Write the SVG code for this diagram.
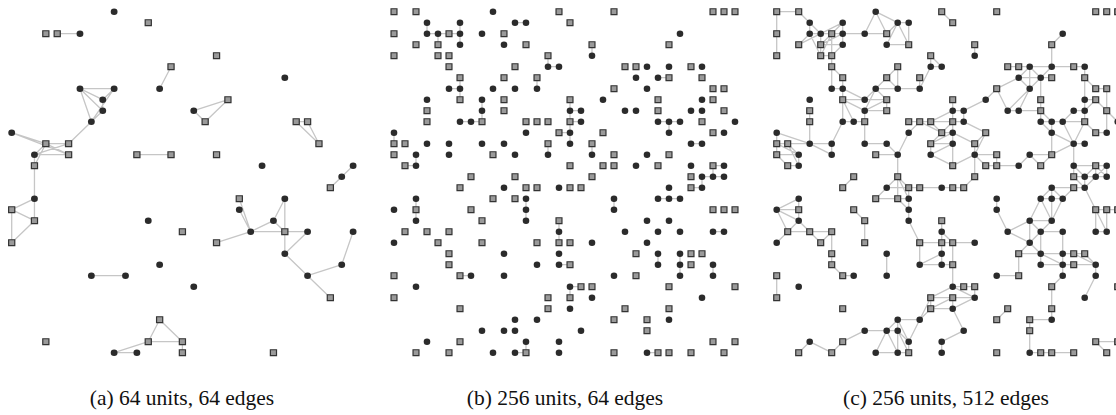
<svg xmlns="http://www.w3.org/2000/svg" width="1116" height="415" viewBox="0 0 1116 415">
<style>
.e{fill:none;stroke:#c6c6c6;stroke-width:1.3;vector-effect:non-scaling-stroke;stroke-linecap:round}
.cap{font-family:"Liberation Serif","Times New Roman",serif;font-size:21.5px;fill:#111;text-anchor:middle}
</style>
<defs>
<circle id="C" r="0.3" fill="#2b2b2b"/>
<rect id="S" x="-0.27" y="-0.27" width="0.54" height="0.54" fill="#9a9a9a" stroke="#333" stroke-width="1.2" vector-effect="non-scaling-stroke"/>
</defs>
<rect width="1116" height="415" fill="#fff"/>
<g id="connectors">
<path class="e" transform="translate(11.7,11.7) scale(11.38,11)" d="M4 2L6 2M14 5L13 7M6 7L9 7M6 7L8 8M6 7L8 9M6 7L7 10M9 7L8 8M9 7L7 10M8 9L7 10M8 8L8 9M7 10L5 12M0 11L3 12M0 11L5 13M3 12L5 12M3 12L5 13M2 13L3 12M2 13L5 12M2 13L5 13M2 13L2 14M2 14L3 12M2 14L2 17M11 13L14 13M2 17L0 18M2 17L2 19M0 18L2 19M0 18L0 21M2 19L0 21M7 24L10 24M13 28L12 30M13 28L15 30M12 30L15 30M12 30L9 31M9 31L11 31M15 30L15 31M20 17L21 20M20 18L21 20M18 21L21 20M21 20L23 19M21 20L24 20M23 19L24 17M23 19L24 20M24 17L24 20M24 20L26 20M24 20L24 22M26 20L24 22M24 22L26 24M26 24L29 23M29 23L30 20M26 24L28 26M28 16L29 15M29 15L30 14M16 9L19 8M16 9L17 10M17 10L19 8M25 10L26 10M25 10L27 12M26 10L27 12"/>
<path class="e" transform="translate(394,11.7) scale(11)" d="M3 1L3 2M3 2L4 2M4 2L5 2M5 2L6 2M6 1L6 2M6 2L6 3M4 2L4 3M11 1L12 1M14 4L14 5M14 5L15 5M5 7L6 7M6 6L6 7M13 6L13 7M6 7L6 8M8 8L8 9M6 10L7 10M7 10L8 10M8 9L8 10M0 11L0 12M14 12L14 13M1 14L2 14M2 13L2 14M18 3L18 4M24 6L25 6M16 8L16 9M16 9L17 9M16 9L16 10M16 10L17 10M24 10L25 10M25 10L26 10M25 10L25 11M15 11L16 11M16 10L16 11M16 11L16 12M27 12L28 12M18 12L18 13M29 14L30 14M28 15L29 15M29 15L30 15M29 14L29 15M28 15L28 16M2 17L2 18M2 18L2 19M12 17L12 18M12 18L12 19M15 19L15 20M15 20L15 21M15 23L16 23M6 24L7 24M11 31L12 31M12 30L12 31M27 16L28 16M24 17L25 17M25 17L26 17M20 17L20 18M29 20L30 20M24 22L24 23M26 22L26 23M26 23L26 24M29 23L29 24M16 25L17 25M16 25L16 26M23 31L24 31"/>
<path class="e" transform="translate(776.7,11.7) scale(11)" d="M0 0L2 0M0 0L0 2M0 2L0 4M2 0L3 1M3 1L3 2M3 1L4 2M3 2L4 2M4 2L5 2M5 2L6 2M6 1L6 2M6 1L4 2M6 1L5 2M2 3L3 2M2 3L4 2M4 3L4 2M4 3L5 2M4 3L6 2M4 3L6 3M4 4L4 3M5 4L5 2M4 4L5 2M5 4L6 3M6 2L6 3M3 2L4 4M6 2L8 2M8 2L9 0M9 0L10 2M9 0L11 1M8 2L10 2M10 2L11 1M11 1L12 1M12 1L12 3M10 3L12 3M11 1L10 3M11 1L12 3M4 4L5 4M5 4L5 5M5 5L6 6M5 5L5 7M6 6L6 7M5 7L6 7M6 7L8 8M6 8L8 8M6 8L8 9M8 8L10 8M8 8L9 7M9 7L11 7M9 7L10 6M10 6L11 5M10 6L11 7M11 5L11 7M11 7L13 7M13 7L13 6M14 5L14 4M14 5L15 5M14 5L13 7M14 4L15 5M8 9L9 7M8 9L10 8M8 9L10 9M10 8L10 9M9 7L10 8M6 8L6 10M6 10L7 10M7 10L8 10M8 9L8 10M6 8L7 10M8 10L8 12M6 10L5 12M3 12L5 12M3 12L5 13M3 12L3 10M3 10L3 9M8 12L10 12M10 12L11 13M9 13L11 13M11 13L12 11M12 11L13 10M12 10L13 10M13 10L14 10M11 13L11 15M0 11L0 12M0 12L1 12M1 12L3 12M0 12L0 13M0 13L2 13M1 14L2 14M2 13L2 14M1 12L2 13M0 12L2 13M1 12L2 14M0 13L1 14M0 11L3 12M6 7L6 8M5 12L5 13M14 10L16 9M14 10L16 10M14 10L15 11M15 11L16 10M15 11L16 11M14 12L15 11M14 12L16 11M14 12L16 12M14 13L16 12M14 13L16 14M14 12L14 13M13 10L15 11M16 8L16 9M16 9L17 9M16 9L16 10M17 9L17 10M16 10L17 10M16 10L16 11M16 11L16 12M16 12L16 14M17 10L19 11M19 11L18 13M19 11L18 12M18 12L16 11M18 12L18 13M18 13L20 13M18 13L19 14M18 13L16 14M18 13L18 15M20 13L20 14M19 14L20 14M20 14L22 14M22 14L23 13M23 13L25 13M23 13L24 14M25 13L24 14M25 13L27 12M25 11L25 13M19 8L17 9M19 8L20 7M20 7L21 9M20 7L22 6M21 9L22 9M22 9L23 7M21 9L23 7M22 9L24 9M22 6L23 5M22 6L24 6M23 5L24 6M23 7L22 6M23 7L24 6M23 7L23 5M24 6L25 6M25 5L24 6M21 5L22 5M22 5L23 5M23 5L25 5M25 5L27 5M27 5L28 5M25 3L26 2M25 3L25 5M18 3L18 4M24 6L24 8M24 8L24 9M24 9L24 10M24 10L25 10M25 10L26 10M26 10L28 10M24 9L25 10M25 10L25 11M24 10L25 11M25 11L27 12M26 10L27 12M27 9L28 9M27 9L26 10M28 9L28 10M28 9L29 8M28 10L27 12M27 12L28 12M28 8L28 9M28 8L29 8M28 8L28 6M28 6L28 5M28 6L29 7M29 7L30 7M29 8L30 9M30 7L30 9M30 9L31 10M29 11L30 11M30 11L30 9M29 11L28 10M27 12L27 14M27 14L29 14M27 14L27 15M27 15L28 15M28 15L29 15M29 15L30 15M29 14L30 14M27 14L28 15M29 14L28 15M29 14L30 15M30 14L29 15M30 14L30 15M29 14L29 15M15 0L16 1M28 15L28 16M28 16L27 15M28 16L29 15M6 16L7 15M10 16L12 16M12 16L13 16M13 16L15 16M10 16L9 17M9 17L11 17M11 17L12 17M11 15L10 16M11 15L11 17M11 15L12 16M11 15L12 17M12 16L12 17M12 17L12 18M12 18L12 19M11 17L12 18M12 19L13 21M13 21L15 21M13 21L13 23M13 23L15 23M13 23L15 22M15 19L15 20M15 20L15 21M15 21L15 22M15 22L15 23M2 17L2 18M0 18L2 18M0 18L2 17M0 18L2 19M2 18L2 19M2 19L1 20M0 18L1 20M1 20L3 20M3 20L5 20M2 19L3 20M3 20L4 21M4 21L5 20M5 20L5 22M5 22L5 23M5 23L6 24M6 24L7 24M0 21L1 20M7 18L8 19M8 19L8 21M10 22L10 24M0 24L0 26M14 26L14 27M14 26L13 28M14 27L13 28M13 28L11 28M11 28L10 29M11 28L11 29M11 28L12 30M10 29L11 29M10 29L8 29M8 29L6 30M6 30L5 31M5 31L3 30M3 30L2 31M10 29L9 31M9 31L11 31M11 31L12 31M10 29L11 31M11 29L11 31M11 29L12 30M12 30L12 31M11 29L12 31M13 28L12 30M15 16L16 16M16 16L17 16M17 16L18 15M25 16L27 16M27 16L28 16M25 16L24 17M25 16L25 17M25 16L26 17M24 17L25 17M25 17L26 17M26 17L27 16M24 17L23 19M24 17L25 19M26 17L25 19M25 17L25 19M23 19L25 19M23 19L21 20M23 19L24 20M25 19L24 20M24 20L26 20M23 19L23 21M21 20L23 21M24 20L23 21M21 20L20 18M20 17L20 18M23 21L22 22M23 21L24 22M22 22L24 22M22 22L22 24M20 24L22 24M24 20L24 22M24 22L26 22M26 20L26 22M26 22L27 22M27 22L28 22M24 22L24 23M24 23L26 23M24 22L26 23M26 22L26 23M26 23L27 23M27 23L29 23M27 22L29 23M28 22L29 23M26 23L26 24M26 24L25 25M29 23L29 24M29 24L28 26M25 25L25 27M25 27L25 28M25 28L23 28M23 28L23 29M23 29L23 31M23 31L24 31M24 31L25 31M25 31L27 31M21 27L20 28M28 16L29 18M29 18L30 18M30 18L31 18M29 18L29 20M30 18L30 20M29 18L30 20M29 20L30 20M15 21L16 21M16 21L18 21M16 21L16 23M15 23L16 23M15 20L16 21M16 23L16 25M16 25L17 25M17 25L18 25M18 25L18 26M16 26L18 26M16 25L18 26M16 26L16 27M16 27L18 26M16 27L17 29M17 29L15 30M14 26L16 25M14 26L16 26M14 27L16 26M14 27L16 27M29 30L31 30M29 30L30 31M15 30L15 31"/>
</g>
<g id="panel-a" transform="translate(11.7,11.7) scale(11.38,11)">
<g id="a9_0"><use href="#C" x="9" y="0"/></g><g id="a12_1"><use href="#S" x="12" y="1"/></g><g id="a3_2"><use href="#S" x="3" y="2"/></g><g id="a4_2"><use href="#S" x="4" y="2"/></g><g id="a6_2"><use href="#C" x="6" y="2"/></g><g id="a14_5"><use href="#S" x="14" y="5"/></g><g id="a13_7"><use href="#C" x="13" y="7"/></g><g id="a6_7"><use href="#C" x="6" y="7"/></g><g id="a9_7"><use href="#C" x="9" y="7"/></g><g id="a8_8"><use href="#C" x="8" y="8"/></g><g id="a8_9"><use href="#C" x="8" y="9"/></g><g id="a7_10"><use href="#C" x="7" y="10"/></g><g id="a0_11"><use href="#C" x="0" y="11"/></g><g id="a3_12"><use href="#S" x="3" y="12"/></g><g id="a5_12"><use href="#S" x="5" y="12"/></g><g id="a2_13"><use href="#C" x="2" y="13"/></g><g id="a5_13"><use href="#S" x="5" y="13"/></g><g id="a2_14"><use href="#S" x="2" y="14"/></g><g id="a11_13"><use href="#S" x="11" y="13"/></g><g id="a14_13"><use href="#S" x="14" y="13"/></g><g id="a2_17"><use href="#C" x="2" y="17"/></g><g id="a0_18"><use href="#S" x="0" y="18"/></g><g id="a2_19"><use href="#S" x="2" y="19"/></g><g id="a0_21"><use href="#S" x="0" y="21"/></g><g id="a12_19"><use href="#C" x="12" y="19"/></g><g id="a15_20"><use href="#S" x="15" y="20"/></g><g id="a13_23"><use href="#C" x="13" y="23"/></g><g id="a7_24"><use href="#C" x="7" y="24"/></g><g id="a10_24"><use href="#C" x="10" y="24"/></g><g id="a13_28"><use href="#S" x="13" y="28"/></g><g id="a12_30"><use href="#S" x="12" y="30"/></g><g id="a9_31"><use href="#C" x="9" y="31"/></g><g id="a11_31"><use href="#C" x="11" y="31"/></g><g id="a3_30"><use href="#S" x="3" y="30"/></g><g id="a15_30"><use href="#S" x="15" y="30"/></g><g id="a15_31"><use href="#S" x="15" y="31"/></g><g id="a23_31"><use href="#S" x="23" y="31"/></g><g id="a16_25"><use href="#C" x="16" y="25"/></g><g id="a18_21"><use href="#S" x="18" y="21"/></g><g id="a20_17"><use href="#S" x="20" y="17"/></g><g id="a20_18"><use href="#C" x="20" y="18"/></g><g id="a21_20"><use href="#C" x="21" y="20"/></g><g id="a23_19"><use href="#C" x="23" y="19"/></g><g id="a24_20"><use href="#S" x="24" y="20"/></g><g id="a24_17"><use href="#C" x="24" y="17"/></g><g id="a26_20"><use href="#C" x="26" y="20"/></g><g id="a30_20"><use href="#C" x="30" y="20"/></g><g id="a24_22"><use href="#C" x="24" y="22"/></g><g id="a26_24"><use href="#C" x="26" y="24"/></g><g id="a29_23"><use href="#C" x="29" y="23"/></g><g id="a28_26"><use href="#S" x="28" y="26"/></g><g id="a28_16"><use href="#S" x="28" y="16"/></g><g id="a29_15"><use href="#C" x="29" y="15"/></g><g id="a30_14"><use href="#C" x="30" y="14"/></g><g id="a18_4"><use href="#S" x="18" y="4"/></g><g id="a24_6"><use href="#C" x="24" y="6"/></g><g id="a19_8"><use href="#S" x="19" y="8"/></g><g id="a16_9"><use href="#C" x="16" y="9"/></g><g id="a17_10"><use href="#S" x="17" y="10"/></g><g id="a25_10"><use href="#S" x="25" y="10"/></g><g id="a26_10"><use href="#S" x="26" y="10"/></g><g id="a27_12"><use href="#S" x="27" y="12"/></g><g id="a18_13"><use href="#S" x="18" y="13"/></g><g id="a22_14"><use href="#C" x="22" y="14"/></g>
</g>
<g id="panel-b" transform="translate(394,11.7) scale(11)">
<g id="b0_0"><use href="#S" x="0" y="0"/></g><g id="b2_0"><use href="#S" x="2" y="0"/></g><g id="b9_0"><use href="#C" x="9" y="0"/></g><g id="b15_0"><use href="#S" x="15" y="0"/></g><g id="b20_0"><use href="#S" x="20" y="0"/></g><g id="b29_0"><use href="#S" x="29" y="0"/></g><g id="b30_0"><use href="#S" x="30" y="0"/></g><g id="b31_0"><use href="#S" x="31" y="0"/></g>
<g id="b3_1"><use href="#C" x="3" y="1"/></g><g id="b6_1"><use href="#C" x="6" y="1"/></g><g id="b11_1"><use href="#C" x="11" y="1"/></g><g id="b12_1"><use href="#C" x="12" y="1"/></g><g id="b16_1"><use href="#S" x="16" y="1"/></g>
<g id="b0_2"><use href="#S" x="0" y="2"/></g><g id="b3_2"><use href="#C" x="3" y="2"/></g><g id="b4_2"><use href="#C" x="4" y="2"/></g><g id="b5_2"><use href="#S" x="5" y="2"/></g><g id="b6_2"><use href="#C" x="6" y="2"/></g><g id="b8_2"><use href="#C" x="8" y="2"/></g><g id="b10_2"><use href="#S" x="10" y="2"/></g><g id="b26_2"><use href="#C" x="26" y="2"/></g>
<g id="b2_3"><use href="#S" x="2" y="3"/></g><g id="b4_3"><use href="#S" x="4" y="3"/></g><g id="b6_3"><use href="#C" x="6" y="3"/></g><g id="b10_3"><use href="#C" x="10" y="3"/></g><g id="b12_3"><use href="#S" x="12" y="3"/></g><g id="b18_3"><use href="#S" x="18" y="3"/></g><g id="b25_3"><use href="#S" x="25" y="3"/></g>
<g id="b0_4"><use href="#S" x="0" y="4"/></g><g id="b4_4"><use href="#S" x="4" y="4"/></g><g id="b5_4"><use href="#S" x="5" y="4"/></g><g id="b14_4"><use href="#S" x="14" y="4"/></g><g id="b18_4"><use href="#C" x="18" y="4"/></g>
<g id="b5_5"><use href="#S" x="5" y="5"/></g><g id="b11_5"><use href="#S" x="11" y="5"/></g><g id="b14_5"><use href="#C" x="14" y="5"/></g><g id="b15_5"><use href="#C" x="15" y="5"/></g><g id="b21_5"><use href="#S" x="21" y="5"/></g><g id="b22_5"><use href="#S" x="22" y="5"/></g><g id="b23_5"><use href="#C" x="23" y="5"/></g><g id="b25_5"><use href="#C" x="25" y="5"/></g><g id="b27_5"><use href="#S" x="27" y="5"/></g><g id="b28_5"><use href="#C" x="28" y="5"/></g>
<g id="b6_6"><use href="#S" x="6" y="6"/></g><g id="b10_6"><use href="#S" x="10" y="6"/></g><g id="b13_6"><use href="#S" x="13" y="6"/></g><g id="b22_6"><use href="#C" x="22" y="6"/></g><g id="b24_6"><use href="#C" x="24" y="6"/></g><g id="b25_6"><use href="#S" x="25" y="6"/></g><g id="b28_6"><use href="#S" x="28" y="6"/></g>
<g id="b5_7"><use href="#C" x="5" y="7"/></g><g id="b6_7"><use href="#C" x="6" y="7"/></g><g id="b9_7"><use href="#C" x="9" y="7"/></g><g id="b11_7"><use href="#C" x="11" y="7"/></g><g id="b13_7"><use href="#C" x="13" y="7"/></g><g id="b20_7"><use href="#S" x="20" y="7"/></g><g id="b23_7"><use href="#C" x="23" y="7"/></g><g id="b29_7"><use href="#S" x="29" y="7"/></g><g id="b30_7"><use href="#S" x="30" y="7"/></g>
<g id="b3_8"><use href="#C" x="3" y="8"/></g><g id="b6_8"><use href="#S" x="6" y="8"/></g><g id="b8_8"><use href="#C" x="8" y="8"/></g><g id="b10_8"><use href="#S" x="10" y="8"/></g><g id="b16_8"><use href="#S" x="16" y="8"/></g><g id="b19_8"><use href="#C" x="19" y="8"/></g><g id="b24_8"><use href="#S" x="24" y="8"/></g><g id="b28_8"><use href="#C" x="28" y="8"/></g><g id="b29_8"><use href="#S" x="29" y="8"/></g>
<g id="b3_9"><use href="#S" x="3" y="9"/></g><g id="b8_9"><use href="#C" x="8" y="9"/></g><g id="b10_9"><use href="#S" x="10" y="9"/></g><g id="b16_9"><use href="#C" x="16" y="9"/></g><g id="b17_9"><use href="#C" x="17" y="9"/></g><g id="b21_9"><use href="#C" x="21" y="9"/></g><g id="b22_9"><use href="#C" x="22" y="9"/></g><g id="b24_9"><use href="#S" x="24" y="9"/></g><g id="b27_9"><use href="#C" x="27" y="9"/></g><g id="b28_9"><use href="#C" x="28" y="9"/></g><g id="b30_9"><use href="#S" x="30" y="9"/></g>
<g id="b3_10"><use href="#S" x="3" y="10"/></g><g id="b6_10"><use href="#C" x="6" y="10"/></g><g id="b7_10"><use href="#C" x="7" y="10"/></g><g id="b8_10"><use href="#S" x="8" y="10"/></g><g id="b12_10"><use href="#S" x="12" y="10"/></g><g id="b13_10"><use href="#S" x="13" y="10"/></g><g id="b14_10"><use href="#S" x="14" y="10"/></g><g id="b16_10"><use href="#S" x="16" y="10"/></g><g id="b17_10"><use href="#C" x="17" y="10"/></g><g id="b24_10"><use href="#C" x="24" y="10"/></g><g id="b25_10"><use href="#C" x="25" y="10"/></g><g id="b26_10"><use href="#C" x="26" y="10"/></g><g id="b28_10"><use href="#S" x="28" y="10"/></g><g id="b31_10"><use href="#C" x="31" y="10"/></g>
<g id="b0_11"><use href="#C" x="0" y="11"/></g><g id="b12_11"><use href="#C" x="12" y="11"/></g><g id="b15_11"><use href="#S" x="15" y="11"/></g><g id="b16_11"><use href="#C" x="16" y="11"/></g><g id="b19_11"><use href="#S" x="19" y="11"/></g><g id="b25_11"><use href="#C" x="25" y="11"/></g><g id="b29_11"><use href="#S" x="29" y="11"/></g><g id="b30_11"><use href="#C" x="30" y="11"/></g>
<g id="b0_12"><use href="#S" x="0" y="12"/></g><g id="b1_12"><use href="#S" x="1" y="12"/></g><g id="b3_12"><use href="#C" x="3" y="12"/></g><g id="b5_12"><use href="#C" x="5" y="12"/></g><g id="b8_12"><use href="#C" x="8" y="12"/></g><g id="b10_12"><use href="#C" x="10" y="12"/></g><g id="b14_12"><use href="#S" x="14" y="12"/></g><g id="b16_12"><use href="#C" x="16" y="12"/></g><g id="b18_12"><use href="#S" x="18" y="12"/></g><g id="b27_12"><use href="#C" x="27" y="12"/></g><g id="b28_12"><use href="#C" x="28" y="12"/></g>
<g id="b0_13"><use href="#S" x="0" y="13"/></g><g id="b2_13"><use href="#C" x="2" y="13"/></g><g id="b5_13"><use href="#C" x="5" y="13"/></g><g id="b9_13"><use href="#S" x="9" y="13"/></g><g id="b11_13"><use href="#C" x="11" y="13"/></g><g id="b14_13"><use href="#C" x="14" y="13"/></g><g id="b18_13"><use href="#C" x="18" y="13"/></g><g id="b20_13"><use href="#S" x="20" y="13"/></g><g id="b23_13"><use href="#C" x="23" y="13"/></g><g id="b25_13"><use href="#S" x="25" y="13"/></g>
<g id="b1_14"><use href="#S" x="1" y="14"/></g><g id="b2_14"><use href="#C" x="2" y="14"/></g><g id="b16_14"><use href="#S" x="16" y="14"/></g><g id="b19_14"><use href="#S" x="19" y="14"/></g><g id="b20_14"><use href="#S" x="20" y="14"/></g><g id="b22_14"><use href="#C" x="22" y="14"/></g><g id="b24_14"><use href="#S" x="24" y="14"/></g><g id="b27_14"><use href="#C" x="27" y="14"/></g><g id="b29_14"><use href="#S" x="29" y="14"/></g><g id="b30_14"><use href="#C" x="30" y="14"/></g>
<g id="b7_15"><use href="#S" x="7" y="15"/></g><g id="b11_15"><use href="#S" x="11" y="15"/></g><g id="b18_15"><use href="#S" x="18" y="15"/></g><g id="b27_15"><use href="#S" x="27" y="15"/></g><g id="b28_15"><use href="#C" x="28" y="15"/></g><g id="b29_15"><use href="#C" x="29" y="15"/></g><g id="b30_15"><use href="#C" x="30" y="15"/></g>
<g id="b6_16"><use href="#S" x="6" y="16"/></g><g id="b10_16"><use href="#C" x="10" y="16"/></g><g id="b12_16"><use href="#S" x="12" y="16"/></g><g id="b13_16"><use href="#S" x="13" y="16"/></g><g id="b15_16"><use href="#C" x="15" y="16"/></g><g id="b16_16"><use href="#S" x="16" y="16"/></g><g id="b17_16"><use href="#S" x="17" y="16"/></g><g id="b25_16"><use href="#C" x="25" y="16"/></g><g id="b27_16"><use href="#S" x="27" y="16"/></g><g id="b28_16"><use href="#C" x="28" y="16"/></g>
<g id="b2_17"><use href="#C" x="2" y="17"/></g><g id="b9_17"><use href="#S" x="9" y="17"/></g><g id="b11_17"><use href="#S" x="11" y="17"/></g><g id="b12_17"><use href="#C" x="12" y="17"/></g><g id="b20_17"><use href="#C" x="20" y="17"/></g><g id="b24_17"><use href="#C" x="24" y="17"/></g><g id="b25_17"><use href="#C" x="25" y="17"/></g><g id="b26_17"><use href="#C" x="26" y="17"/></g>
<g id="b0_18"><use href="#C" x="0" y="18"/></g><g id="b2_18"><use href="#S" x="2" y="18"/></g><g id="b7_18"><use href="#S" x="7" y="18"/></g><g id="b12_18"><use href="#C" x="12" y="18"/></g><g id="b20_18"><use href="#C" x="20" y="18"/></g><g id="b29_18"><use href="#S" x="29" y="18"/></g><g id="b30_18"><use href="#S" x="30" y="18"/></g><g id="b31_18"><use href="#S" x="31" y="18"/></g>
<g id="b2_19"><use href="#C" x="2" y="19"/></g><g id="b8_19"><use href="#S" x="8" y="19"/></g><g id="b12_19"><use href="#C" x="12" y="19"/></g><g id="b15_19"><use href="#S" x="15" y="19"/></g><g id="b23_19"><use href="#C" x="23" y="19"/></g><g id="b25_19"><use href="#C" x="25" y="19"/></g>
<g id="b1_20"><use href="#S" x="1" y="20"/></g><g id="b3_20"><use href="#S" x="3" y="20"/></g><g id="b5_20"><use href="#S" x="5" y="20"/></g><g id="b15_20"><use href="#C" x="15" y="20"/></g><g id="b21_20"><use href="#C" x="21" y="20"/></g><g id="b24_20"><use href="#C" x="24" y="20"/></g><g id="b26_20"><use href="#C" x="26" y="20"/></g><g id="b29_20"><use href="#C" x="29" y="20"/></g><g id="b30_20"><use href="#C" x="30" y="20"/></g>
<g id="b0_21"><use href="#C" x="0" y="21"/></g><g id="b4_21"><use href="#S" x="4" y="21"/></g><g id="b8_21"><use href="#S" x="8" y="21"/></g><g id="b13_21"><use href="#S" x="13" y="21"/></g><g id="b15_21"><use href="#S" x="15" y="21"/></g><g id="b16_21"><use href="#S" x="16" y="21"/></g><g id="b18_21"><use href="#C" x="18" y="21"/></g><g id="b23_21"><use href="#C" x="23" y="21"/></g>
<g id="b5_22"><use href="#S" x="5" y="22"/></g><g id="b10_22"><use href="#C" x="10" y="22"/></g><g id="b15_22"><use href="#C" x="15" y="22"/></g><g id="b22_22"><use href="#S" x="22" y="22"/></g><g id="b24_22"><use href="#C" x="24" y="22"/></g><g id="b26_22"><use href="#C" x="26" y="22"/></g><g id="b27_22"><use href="#S" x="27" y="22"/></g><g id="b28_22"><use href="#S" x="28" y="22"/></g>
<g id="b5_23"><use href="#S" x="5" y="23"/></g><g id="b13_23"><use href="#C" x="13" y="23"/></g><g id="b15_23"><use href="#C" x="15" y="23"/></g><g id="b16_23"><use href="#S" x="16" y="23"/></g><g id="b24_23"><use href="#C" x="24" y="23"/></g><g id="b26_23"><use href="#C" x="26" y="23"/></g><g id="b27_23"><use href="#S" x="27" y="23"/></g><g id="b29_23"><use href="#C" x="29" y="23"/></g>
<g id="b0_24"><use href="#S" x="0" y="24"/></g><g id="b6_24"><use href="#S" x="6" y="24"/></g><g id="b7_24"><use href="#C" x="7" y="24"/></g><g id="b10_24"><use href="#C" x="10" y="24"/></g><g id="b20_24"><use href="#C" x="20" y="24"/></g><g id="b22_24"><use href="#S" x="22" y="24"/></g><g id="b26_24"><use href="#C" x="26" y="24"/></g><g id="b29_24"><use href="#C" x="29" y="24"/></g>
<g id="b2_25"><use href="#C" x="2" y="25"/></g><g id="b16_25"><use href="#C" x="16" y="25"/></g><g id="b17_25"><use href="#S" x="17" y="25"/></g><g id="b18_25"><use href="#S" x="18" y="25"/></g><g id="b25_25"><use href="#S" x="25" y="25"/></g><g id="b31_25"><use href="#S" x="31" y="25"/></g>
<g id="b0_26"><use href="#S" x="0" y="26"/></g><g id="b14_26"><use href="#S" x="14" y="26"/></g><g id="b16_26"><use href="#S" x="16" y="26"/></g><g id="b18_26"><use href="#C" x="18" y="26"/></g><g id="b28_26"><use href="#C" x="28" y="26"/></g>
<g id="b6_27"><use href="#S" x="6" y="27"/></g><g id="b14_27"><use href="#S" x="14" y="27"/></g><g id="b16_27"><use href="#C" x="16" y="27"/></g><g id="b21_27"><use href="#S" x="21" y="27"/></g><g id="b25_27"><use href="#S" x="25" y="27"/></g>
<g id="b11_28"><use href="#C" x="11" y="28"/></g><g id="b13_28"><use href="#C" x="13" y="28"/></g><g id="b20_28"><use href="#S" x="20" y="28"/></g><g id="b23_28"><use href="#S" x="23" y="28"/></g><g id="b25_28"><use href="#C" x="25" y="28"/></g>
<g id="b8_29"><use href="#C" x="8" y="29"/></g><g id="b10_29"><use href="#C" x="10" y="29"/></g><g id="b11_29"><use href="#C" x="11" y="29"/></g><g id="b17_29"><use href="#C" x="17" y="29"/></g><g id="b23_29"><use href="#S" x="23" y="29"/></g>
<g id="b3_30"><use href="#C" x="3" y="30"/></g><g id="b6_30"><use href="#S" x="6" y="30"/></g><g id="b12_30"><use href="#C" x="12" y="30"/></g><g id="b15_30"><use href="#C" x="15" y="30"/></g><g id="b29_30"><use href="#S" x="29" y="30"/></g><g id="b31_30"><use href="#S" x="31" y="30"/></g>
<g id="b2_31"><use href="#S" x="2" y="31"/></g><g id="b5_31"><use href="#S" x="5" y="31"/></g><g id="b9_31"><use href="#C" x="9" y="31"/></g><g id="b11_31"><use href="#C" x="11" y="31"/></g><g id="b12_31"><use href="#S" x="12" y="31"/></g><g id="b15_31"><use href="#C" x="15" y="31"/></g><g id="b20_31"><use href="#S" x="20" y="31"/></g><g id="b23_31"><use href="#C" x="23" y="31"/></g><g id="b24_31"><use href="#S" x="24" y="31"/></g><g id="b25_31"><use href="#S" x="25" y="31"/></g><g id="b27_31"><use href="#S" x="27" y="31"/></g><g id="b30_31"><use href="#S" x="30" y="31"/></g>
</g>
<g id="panel-c" transform="translate(776.7,11.7) scale(11)">
<g id="c0_0"><use href="#S" x="0" y="0"/></g><g id="c2_0"><use href="#S" x="2" y="0"/></g><g id="c9_0"><use href="#C" x="9" y="0"/></g><g id="c15_0"><use href="#S" x="15" y="0"/></g><g id="c20_0"><use href="#S" x="20" y="0"/></g><g id="c29_0"><use href="#S" x="29" y="0"/></g><g id="c30_0"><use href="#S" x="30" y="0"/></g><g id="c31_0"><use href="#S" x="31" y="0"/></g>
<g id="c3_1"><use href="#C" x="3" y="1"/></g><g id="c6_1"><use href="#C" x="6" y="1"/></g><g id="c11_1"><use href="#C" x="11" y="1"/></g><g id="c12_1"><use href="#C" x="12" y="1"/></g><g id="c16_1"><use href="#S" x="16" y="1"/></g>
<g id="c0_2"><use href="#S" x="0" y="2"/></g><g id="c3_2"><use href="#C" x="3" y="2"/></g><g id="c4_2"><use href="#C" x="4" y="2"/></g><g id="c5_2"><use href="#S" x="5" y="2"/></g><g id="c6_2"><use href="#C" x="6" y="2"/></g><g id="c8_2"><use href="#C" x="8" y="2"/></g><g id="c10_2"><use href="#S" x="10" y="2"/></g><g id="c26_2"><use href="#C" x="26" y="2"/></g>
<g id="c2_3"><use href="#S" x="2" y="3"/></g><g id="c4_3"><use href="#S" x="4" y="3"/></g><g id="c6_3"><use href="#C" x="6" y="3"/></g><g id="c10_3"><use href="#C" x="10" y="3"/></g><g id="c12_3"><use href="#S" x="12" y="3"/></g><g id="c18_3"><use href="#S" x="18" y="3"/></g><g id="c25_3"><use href="#S" x="25" y="3"/></g>
<g id="c0_4"><use href="#S" x="0" y="4"/></g><g id="c4_4"><use href="#S" x="4" y="4"/></g><g id="c5_4"><use href="#S" x="5" y="4"/></g><g id="c14_4"><use href="#S" x="14" y="4"/></g><g id="c18_4"><use href="#C" x="18" y="4"/></g>
<g id="c5_5"><use href="#S" x="5" y="5"/></g><g id="c11_5"><use href="#S" x="11" y="5"/></g><g id="c14_5"><use href="#C" x="14" y="5"/></g><g id="c15_5"><use href="#C" x="15" y="5"/></g><g id="c21_5"><use href="#S" x="21" y="5"/></g><g id="c22_5"><use href="#S" x="22" y="5"/></g><g id="c23_5"><use href="#C" x="23" y="5"/></g><g id="c25_5"><use href="#C" x="25" y="5"/></g><g id="c27_5"><use href="#S" x="27" y="5"/></g><g id="c28_5"><use href="#C" x="28" y="5"/></g>
<g id="c6_6"><use href="#S" x="6" y="6"/></g><g id="c10_6"><use href="#S" x="10" y="6"/></g><g id="c13_6"><use href="#S" x="13" y="6"/></g><g id="c22_6"><use href="#C" x="22" y="6"/></g><g id="c24_6"><use href="#C" x="24" y="6"/></g><g id="c25_6"><use href="#S" x="25" y="6"/></g><g id="c28_6"><use href="#S" x="28" y="6"/></g>
<g id="c5_7"><use href="#C" x="5" y="7"/></g><g id="c6_7"><use href="#C" x="6" y="7"/></g><g id="c9_7"><use href="#C" x="9" y="7"/></g><g id="c11_7"><use href="#C" x="11" y="7"/></g><g id="c13_7"><use href="#C" x="13" y="7"/></g><g id="c20_7"><use href="#S" x="20" y="7"/></g><g id="c23_7"><use href="#C" x="23" y="7"/></g><g id="c29_7"><use href="#S" x="29" y="7"/></g><g id="c30_7"><use href="#S" x="30" y="7"/></g>
<g id="c3_8"><use href="#C" x="3" y="8"/></g><g id="c6_8"><use href="#S" x="6" y="8"/></g><g id="c8_8"><use href="#C" x="8" y="8"/></g><g id="c10_8"><use href="#S" x="10" y="8"/></g><g id="c16_8"><use href="#S" x="16" y="8"/></g><g id="c19_8"><use href="#C" x="19" y="8"/></g><g id="c24_8"><use href="#S" x="24" y="8"/></g><g id="c28_8"><use href="#C" x="28" y="8"/></g><g id="c29_8"><use href="#S" x="29" y="8"/></g>
<g id="c3_9"><use href="#S" x="3" y="9"/></g><g id="c8_9"><use href="#C" x="8" y="9"/></g><g id="c10_9"><use href="#S" x="10" y="9"/></g><g id="c16_9"><use href="#C" x="16" y="9"/></g><g id="c17_9"><use href="#C" x="17" y="9"/></g><g id="c21_9"><use href="#C" x="21" y="9"/></g><g id="c22_9"><use href="#C" x="22" y="9"/></g><g id="c24_9"><use href="#S" x="24" y="9"/></g><g id="c27_9"><use href="#C" x="27" y="9"/></g><g id="c28_9"><use href="#C" x="28" y="9"/></g><g id="c30_9"><use href="#S" x="30" y="9"/></g>
<g id="c3_10"><use href="#S" x="3" y="10"/></g><g id="c6_10"><use href="#C" x="6" y="10"/></g><g id="c7_10"><use href="#C" x="7" y="10"/></g><g id="c8_10"><use href="#S" x="8" y="10"/></g><g id="c12_10"><use href="#S" x="12" y="10"/></g><g id="c13_10"><use href="#S" x="13" y="10"/></g><g id="c14_10"><use href="#S" x="14" y="10"/></g><g id="c16_10"><use href="#S" x="16" y="10"/></g><g id="c17_10"><use href="#C" x="17" y="10"/></g><g id="c24_10"><use href="#C" x="24" y="10"/></g><g id="c25_10"><use href="#C" x="25" y="10"/></g><g id="c26_10"><use href="#C" x="26" y="10"/></g><g id="c28_10"><use href="#S" x="28" y="10"/></g><g id="c31_10"><use href="#C" x="31" y="10"/></g>
<g id="c0_11"><use href="#C" x="0" y="11"/></g><g id="c12_11"><use href="#C" x="12" y="11"/></g><g id="c15_11"><use href="#S" x="15" y="11"/></g><g id="c16_11"><use href="#C" x="16" y="11"/></g><g id="c19_11"><use href="#S" x="19" y="11"/></g><g id="c25_11"><use href="#C" x="25" y="11"/></g><g id="c29_11"><use href="#S" x="29" y="11"/></g><g id="c30_11"><use href="#C" x="30" y="11"/></g>
<g id="c0_12"><use href="#S" x="0" y="12"/></g><g id="c1_12"><use href="#S" x="1" y="12"/></g><g id="c3_12"><use href="#C" x="3" y="12"/></g><g id="c5_12"><use href="#C" x="5" y="12"/></g><g id="c8_12"><use href="#C" x="8" y="12"/></g><g id="c10_12"><use href="#C" x="10" y="12"/></g><g id="c14_12"><use href="#S" x="14" y="12"/></g><g id="c16_12"><use href="#C" x="16" y="12"/></g><g id="c18_12"><use href="#S" x="18" y="12"/></g><g id="c27_12"><use href="#C" x="27" y="12"/></g><g id="c28_12"><use href="#C" x="28" y="12"/></g>
<g id="c0_13"><use href="#S" x="0" y="13"/></g><g id="c2_13"><use href="#C" x="2" y="13"/></g><g id="c5_13"><use href="#C" x="5" y="13"/></g><g id="c9_13"><use href="#S" x="9" y="13"/></g><g id="c11_13"><use href="#C" x="11" y="13"/></g><g id="c14_13"><use href="#C" x="14" y="13"/></g><g id="c18_13"><use href="#C" x="18" y="13"/></g><g id="c20_13"><use href="#S" x="20" y="13"/></g><g id="c23_13"><use href="#C" x="23" y="13"/></g><g id="c25_13"><use href="#S" x="25" y="13"/></g>
<g id="c1_14"><use href="#S" x="1" y="14"/></g><g id="c2_14"><use href="#C" x="2" y="14"/></g><g id="c16_14"><use href="#S" x="16" y="14"/></g><g id="c19_14"><use href="#S" x="19" y="14"/></g><g id="c20_14"><use href="#S" x="20" y="14"/></g><g id="c22_14"><use href="#C" x="22" y="14"/></g><g id="c24_14"><use href="#S" x="24" y="14"/></g><g id="c27_14"><use href="#C" x="27" y="14"/></g><g id="c29_14"><use href="#S" x="29" y="14"/></g><g id="c30_14"><use href="#C" x="30" y="14"/></g>
<g id="c7_15"><use href="#S" x="7" y="15"/></g><g id="c11_15"><use href="#S" x="11" y="15"/></g><g id="c18_15"><use href="#S" x="18" y="15"/></g><g id="c27_15"><use href="#S" x="27" y="15"/></g><g id="c28_15"><use href="#C" x="28" y="15"/></g><g id="c29_15"><use href="#C" x="29" y="15"/></g><g id="c30_15"><use href="#C" x="30" y="15"/></g>
<g id="c6_16"><use href="#S" x="6" y="16"/></g><g id="c10_16"><use href="#C" x="10" y="16"/></g><g id="c12_16"><use href="#S" x="12" y="16"/></g><g id="c13_16"><use href="#S" x="13" y="16"/></g><g id="c15_16"><use href="#C" x="15" y="16"/></g><g id="c16_16"><use href="#S" x="16" y="16"/></g><g id="c17_16"><use href="#S" x="17" y="16"/></g><g id="c25_16"><use href="#C" x="25" y="16"/></g><g id="c27_16"><use href="#S" x="27" y="16"/></g><g id="c28_16"><use href="#C" x="28" y="16"/></g>
<g id="c2_17"><use href="#C" x="2" y="17"/></g><g id="c9_17"><use href="#S" x="9" y="17"/></g><g id="c11_17"><use href="#S" x="11" y="17"/></g><g id="c12_17"><use href="#C" x="12" y="17"/></g><g id="c20_17"><use href="#C" x="20" y="17"/></g><g id="c24_17"><use href="#C" x="24" y="17"/></g><g id="c25_17"><use href="#C" x="25" y="17"/></g><g id="c26_17"><use href="#C" x="26" y="17"/></g>
<g id="c0_18"><use href="#C" x="0" y="18"/></g><g id="c2_18"><use href="#S" x="2" y="18"/></g><g id="c7_18"><use href="#S" x="7" y="18"/></g><g id="c12_18"><use href="#C" x="12" y="18"/></g><g id="c20_18"><use href="#C" x="20" y="18"/></g><g id="c29_18"><use href="#S" x="29" y="18"/></g><g id="c30_18"><use href="#S" x="30" y="18"/></g><g id="c31_18"><use href="#S" x="31" y="18"/></g>
<g id="c2_19"><use href="#C" x="2" y="19"/></g><g id="c8_19"><use href="#S" x="8" y="19"/></g><g id="c12_19"><use href="#C" x="12" y="19"/></g><g id="c15_19"><use href="#S" x="15" y="19"/></g><g id="c23_19"><use href="#C" x="23" y="19"/></g><g id="c25_19"><use href="#C" x="25" y="19"/></g>
<g id="c1_20"><use href="#S" x="1" y="20"/></g><g id="c3_20"><use href="#S" x="3" y="20"/></g><g id="c5_20"><use href="#S" x="5" y="20"/></g><g id="c15_20"><use href="#C" x="15" y="20"/></g><g id="c21_20"><use href="#C" x="21" y="20"/></g><g id="c24_20"><use href="#C" x="24" y="20"/></g><g id="c26_20"><use href="#C" x="26" y="20"/></g><g id="c29_20"><use href="#C" x="29" y="20"/></g><g id="c30_20"><use href="#C" x="30" y="20"/></g>
<g id="c0_21"><use href="#C" x="0" y="21"/></g><g id="c4_21"><use href="#S" x="4" y="21"/></g><g id="c8_21"><use href="#S" x="8" y="21"/></g><g id="c13_21"><use href="#S" x="13" y="21"/></g><g id="c15_21"><use href="#S" x="15" y="21"/></g><g id="c16_21"><use href="#S" x="16" y="21"/></g><g id="c18_21"><use href="#C" x="18" y="21"/></g><g id="c23_21"><use href="#C" x="23" y="21"/></g>
<g id="c5_22"><use href="#S" x="5" y="22"/></g><g id="c10_22"><use href="#C" x="10" y="22"/></g><g id="c15_22"><use href="#C" x="15" y="22"/></g><g id="c22_22"><use href="#S" x="22" y="22"/></g><g id="c24_22"><use href="#C" x="24" y="22"/></g><g id="c26_22"><use href="#C" x="26" y="22"/></g><g id="c27_22"><use href="#S" x="27" y="22"/></g><g id="c28_22"><use href="#S" x="28" y="22"/></g>
<g id="c5_23"><use href="#S" x="5" y="23"/></g><g id="c13_23"><use href="#C" x="13" y="23"/></g><g id="c15_23"><use href="#C" x="15" y="23"/></g><g id="c16_23"><use href="#S" x="16" y="23"/></g><g id="c24_23"><use href="#C" x="24" y="23"/></g><g id="c26_23"><use href="#C" x="26" y="23"/></g><g id="c27_23"><use href="#S" x="27" y="23"/></g><g id="c29_23"><use href="#C" x="29" y="23"/></g>
<g id="c0_24"><use href="#S" x="0" y="24"/></g><g id="c6_24"><use href="#S" x="6" y="24"/></g><g id="c7_24"><use href="#C" x="7" y="24"/></g><g id="c10_24"><use href="#C" x="10" y="24"/></g><g id="c20_24"><use href="#C" x="20" y="24"/></g><g id="c22_24"><use href="#S" x="22" y="24"/></g><g id="c26_24"><use href="#C" x="26" y="24"/></g><g id="c29_24"><use href="#C" x="29" y="24"/></g>
<g id="c2_25"><use href="#C" x="2" y="25"/></g><g id="c16_25"><use href="#C" x="16" y="25"/></g><g id="c17_25"><use href="#S" x="17" y="25"/></g><g id="c18_25"><use href="#S" x="18" y="25"/></g><g id="c25_25"><use href="#S" x="25" y="25"/></g><g id="c31_25"><use href="#S" x="31" y="25"/></g>
<g id="c0_26"><use href="#S" x="0" y="26"/></g><g id="c14_26"><use href="#S" x="14" y="26"/></g><g id="c16_26"><use href="#S" x="16" y="26"/></g><g id="c18_26"><use href="#C" x="18" y="26"/></g><g id="c28_26"><use href="#C" x="28" y="26"/></g>
<g id="c6_27"><use href="#S" x="6" y="27"/></g><g id="c14_27"><use href="#S" x="14" y="27"/></g><g id="c16_27"><use href="#C" x="16" y="27"/></g><g id="c21_27"><use href="#S" x="21" y="27"/></g><g id="c25_27"><use href="#S" x="25" y="27"/></g>
<g id="c11_28"><use href="#C" x="11" y="28"/></g><g id="c13_28"><use href="#C" x="13" y="28"/></g><g id="c20_28"><use href="#S" x="20" y="28"/></g><g id="c23_28"><use href="#S" x="23" y="28"/></g><g id="c25_28"><use href="#C" x="25" y="28"/></g>
<g id="c8_29"><use href="#C" x="8" y="29"/></g><g id="c10_29"><use href="#C" x="10" y="29"/></g><g id="c11_29"><use href="#C" x="11" y="29"/></g><g id="c17_29"><use href="#C" x="17" y="29"/></g><g id="c23_29"><use href="#S" x="23" y="29"/></g>
<g id="c3_30"><use href="#C" x="3" y="30"/></g><g id="c6_30"><use href="#S" x="6" y="30"/></g><g id="c12_30"><use href="#C" x="12" y="30"/></g><g id="c15_30"><use href="#C" x="15" y="30"/></g><g id="c29_30"><use href="#S" x="29" y="30"/></g><g id="c31_30"><use href="#S" x="31" y="30"/></g>
<g id="c2_31"><use href="#S" x="2" y="31"/></g><g id="c5_31"><use href="#S" x="5" y="31"/></g><g id="c9_31"><use href="#C" x="9" y="31"/></g><g id="c11_31"><use href="#C" x="11" y="31"/></g><g id="c12_31"><use href="#S" x="12" y="31"/></g><g id="c15_31"><use href="#C" x="15" y="31"/></g><g id="c20_31"><use href="#S" x="20" y="31"/></g><g id="c23_31"><use href="#C" x="23" y="31"/></g><g id="c24_31"><use href="#S" x="24" y="31"/></g><g id="c25_31"><use href="#S" x="25" y="31"/></g><g id="c27_31"><use href="#S" x="27" y="31"/></g><g id="c30_31"><use href="#S" x="30" y="31"/></g>
</g>
<g id="captions">
<text class="cap" x="182" y="405">(a) 64 units, 64 edges</text>
<text class="cap" x="565" y="405">(b) 256 units, 64 edges</text>
<text class="cap" x="946" y="405">(c) 256 units, 512 edges</text>
</g>
</svg>
